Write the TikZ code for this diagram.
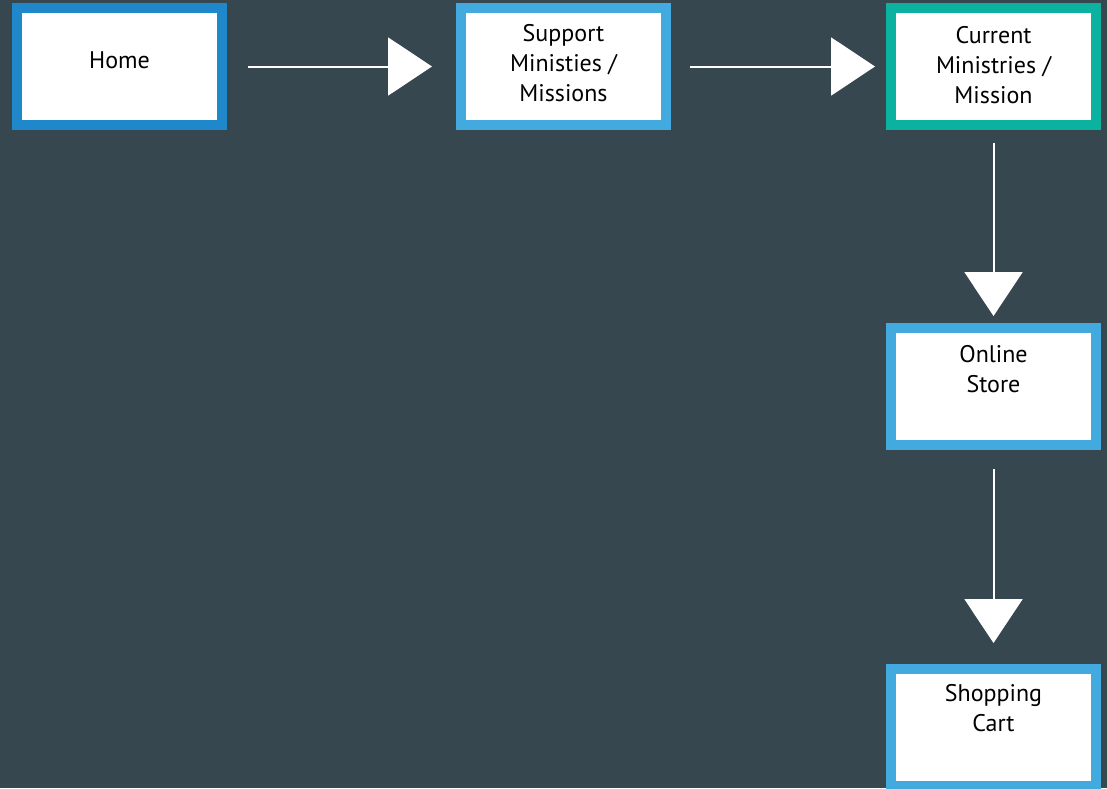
\documentclass[tikz,border=0pt]{standalone}
\usepackage{fontspec}
\setmainfont{PT Sans}
\usetikzlibrary{positioning,arrows.meta}

\definecolor{slate}{RGB}{55,71,79}
\definecolor{homeblue}{RGB}{30,136,202}
\definecolor{pageblue}{RGB}{66,170,222}
\definecolor{missionteal}{RGB}{12,178,160}

\tikzset{
  page/.style={draw=pageblue, line width=10pt, fill=white,
    minimum width=205pt, minimum height=117pt, inner sep=0pt},
  pagetext/.style={align=center, inner sep=0pt,
    font=\fontsize{24}{30}\selectfont},
  flow/.style={white, line width=2pt, -{Triangle[length=44pt,width=58pt]}},
}

\begin{document}
\begin{tikzpicture}[x=1pt,y=-1pt]
  % background
  \fill[slate] (0,0) rectangle (1107,788);
  \useasboundingbox (0,0) rectangle (1107,788);
  % pages
  \node[page, draw=homeblue] (home) at (119.5,66.5) {};
  \node[page, right=229pt of home] (support) {};
  \node[page, draw=missionteal, right=215pt of support] (current) {};
  \node[page, below=193pt of current] (store) {};
  \node[page, below=214pt of store] (cart) {};
  % page titles
  \node[pagetext, below=48pt of home.north]    (homeT)    {Home};
  \node[pagetext, below=21pt of support.north] (supportT) {Support\\Ministies /\\Missions};
  \node[pagetext, below=23pt of current.north] (currentT) {Current\\Ministries /\\Mission};
  \node[pagetext, below=22pt of store.north]   (storeT)   {Online\\Store};
  \node[pagetext, below=20pt of cart.north]    (cartT)    {Shopping\\Cart};
  % navigation arrows
  \draw[flow, shorten <=21pt, shorten >=24pt] (home) -- (support);
  \draw[flow, shorten <=19pt, shorten >=11pt] (support) -- (current);
  \draw[flow, shorten <=13pt, shorten >=7pt]  (current) -- (store);
  \draw[flow, shorten <=19pt, shorten >=21pt] (store) -- (cart);
\end{tikzpicture}
\end{document}
